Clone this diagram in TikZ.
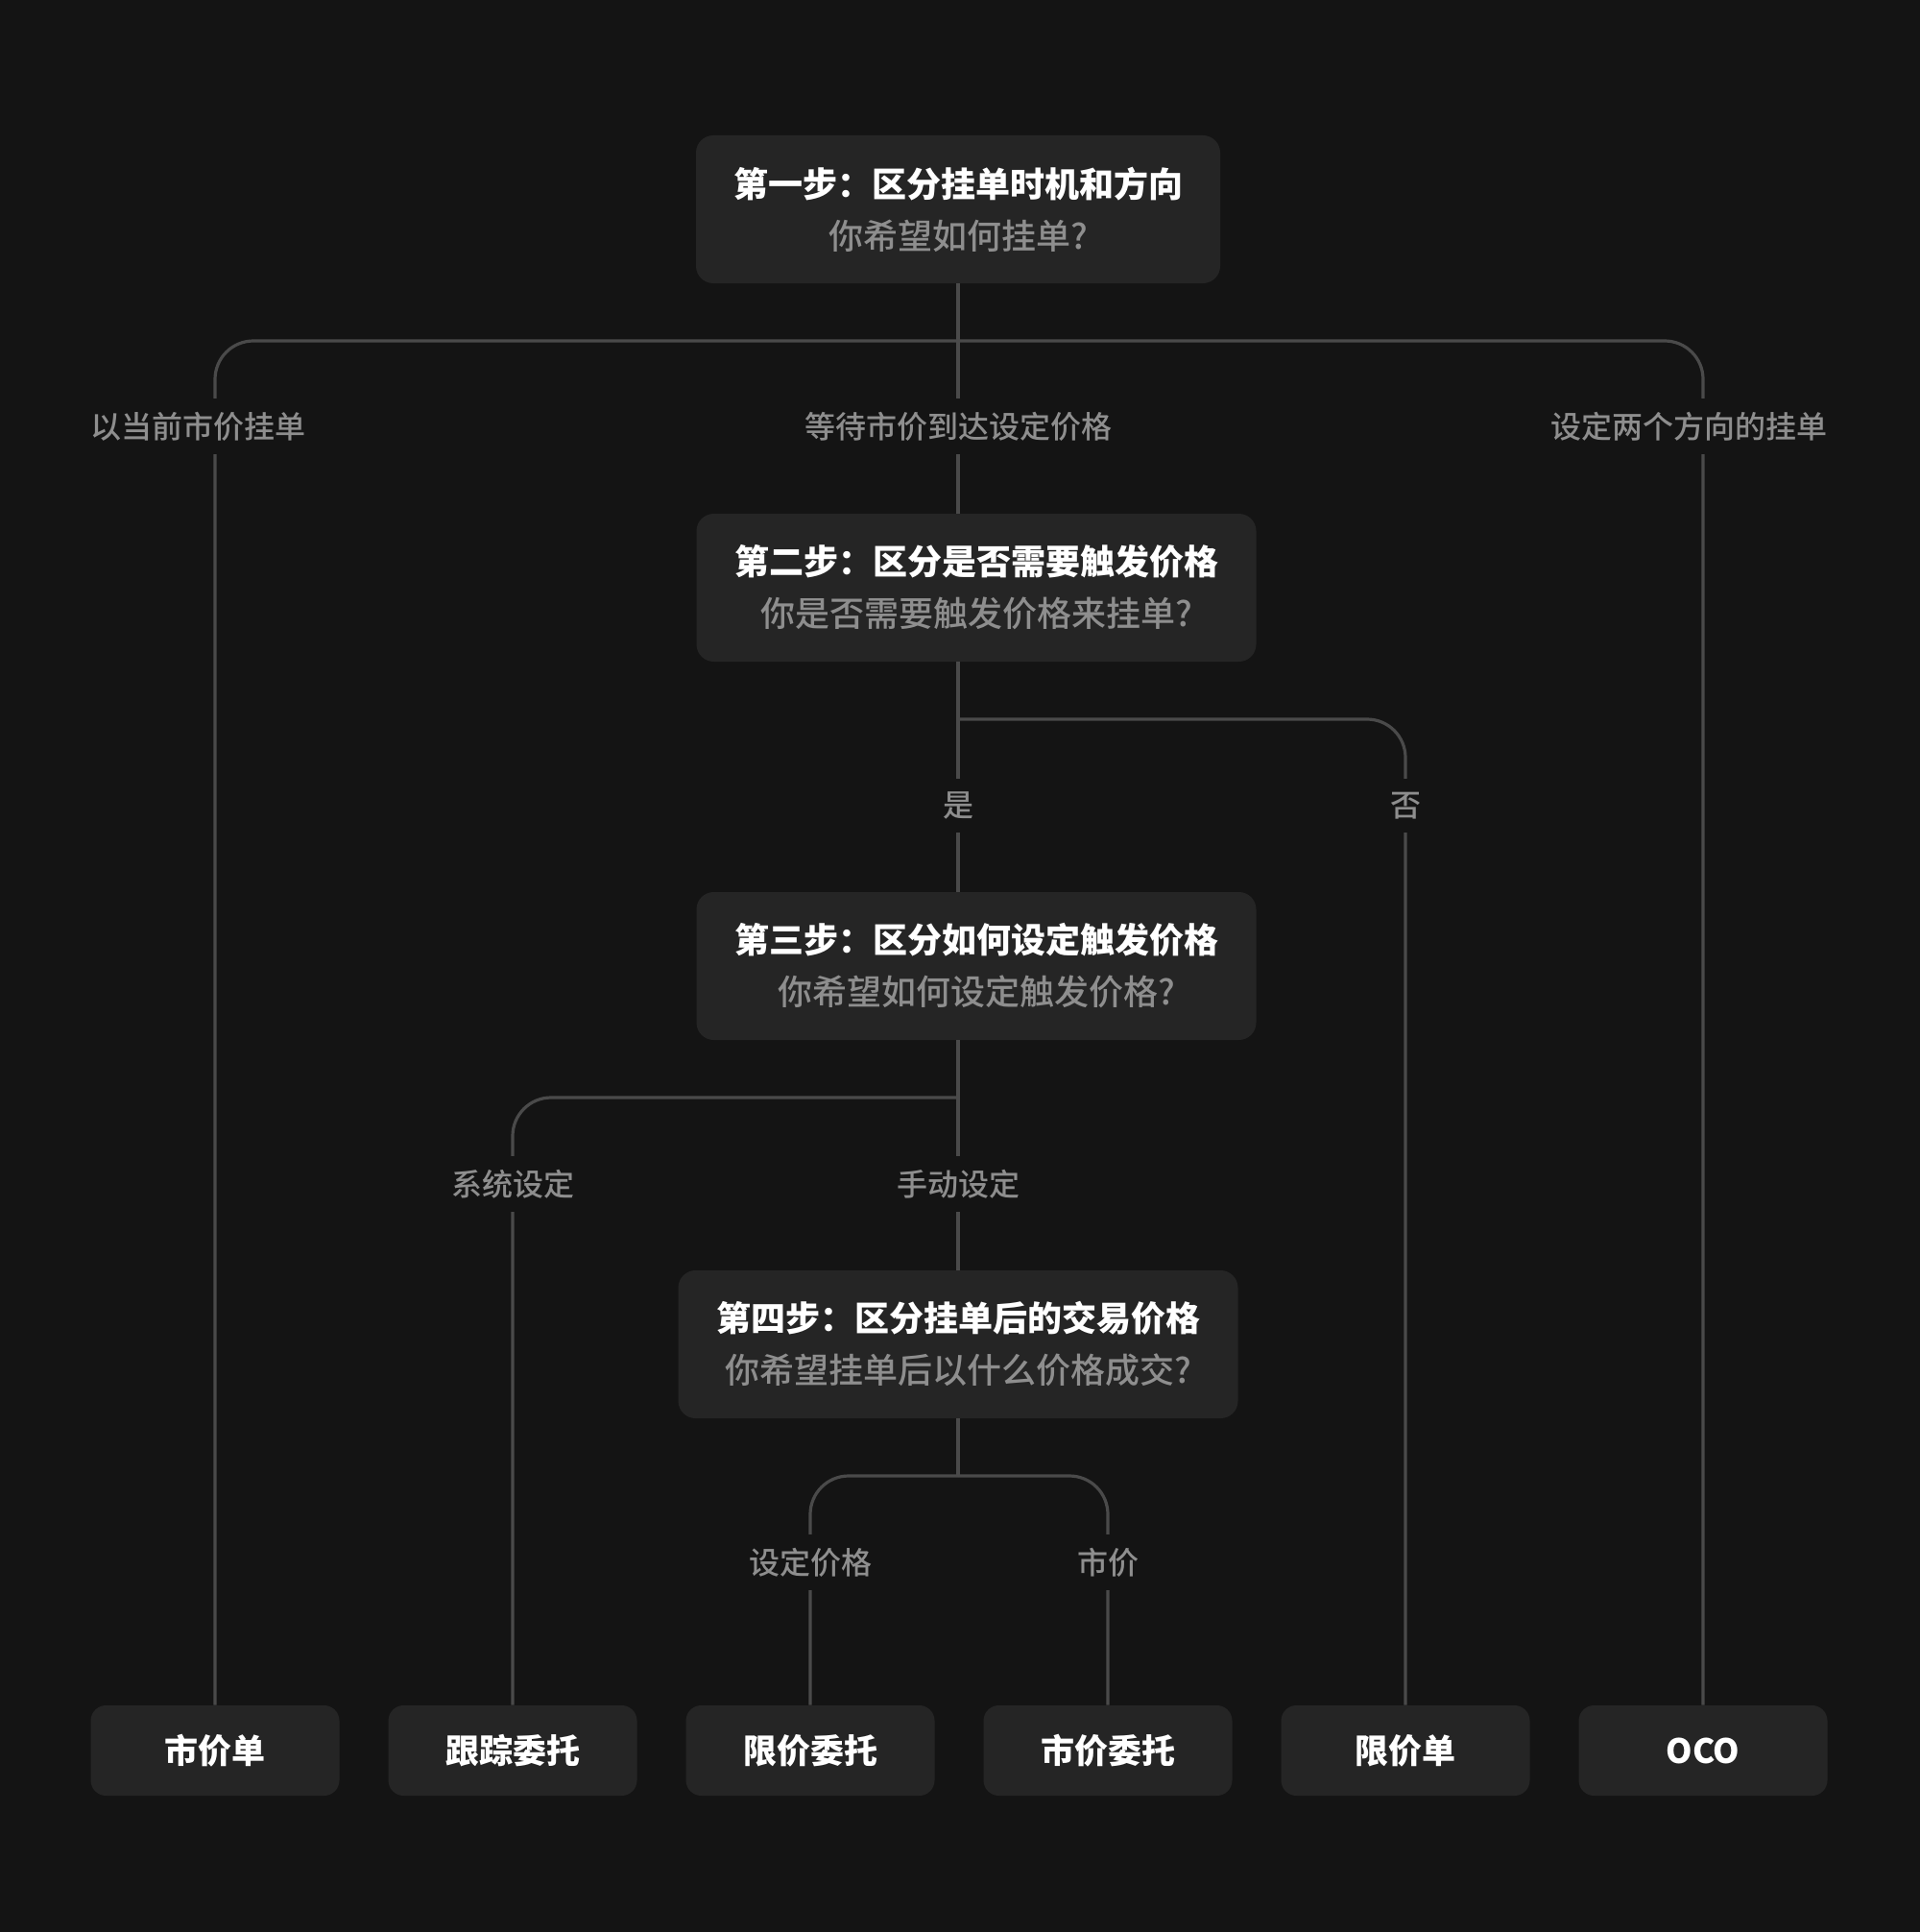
\documentclass[tikz,border=0pt]{standalone}
\usepackage{fontspec}
\setmainfont{Noto Sans CJK SC}
\newfontfamily\medfont{Noto Sans CJK SC Medium}
\usetikzlibrary{positioning}
\definecolor{bg}{HTML}{141414}
\definecolor{card}{HTML}{252525}
\definecolor{wire}{HTML}{4A4A4A}
\definecolor{muted}{HTML}{8E8E8E}
\newcommand{\ask}[1]{\textcolor{muted}{\medfont #1}}
\tikzset{
  question/.style={rectangle,fill=card,rounded corners=9pt,align=center,text=white,minimum height=77pt,font=\fontsize{18}{27}\selectfont},
  result/.style={rectangle,fill=card,rounded corners=8pt,minimum width=129.5pt,minimum height=47pt,text=white,font=\fontsize{17.5}{20}\selectfont\bfseries},
  choice/.style={fill=bg,text=muted,inner xsep=3pt,inner ysep=7pt,font=\fontsize{16}{18}\selectfont\medfont},
  link/.style={draw=wire,line width=1.6pt},
  branch/.style={link,rounded corners=20pt}
}

\begin{document}
\begin{tikzpicture}[node distance=197pt, on grid]
    \fill[bg] (0,0) rectangle (1000pt,-1006pt);

    % questions
    \node[question,minimum width=273pt] (q1) at (499pt,-109pt) {{\bfseries 第一步：区分挂单时机和方向}\\\ask{你希望如何挂单?}};
    \node[question,minimum width=291.5pt,below=of q1,xshift=9.5pt] (q2) {{\bfseries 第二步：区分是否需要触发价格}\\\ask{你是否需要触发价格来挂单?}};
    \node[question,minimum width=291.5pt,below=of q2] (q3) {{\bfseries 第三步：区分如何设定触发价格}\\\ask{你希望如何设定触发价格?}};
    \node[question,minimum width=291.5pt,below=of q3,xshift=-9.5pt] (q4) {{\bfseries 第四步：区分挂单后的交易价格}\\\ask{你希望挂单后以什么价格成交?}};

    % order types
    \node[result] (mkt) at (112pt,-911.5pt) {市价单};
    \node[result,right=155pt of mkt] (trail) {跟踪委托};
    \node[result,right=155pt of trail] (slim) {限价委托};
    \node[result,right=155pt of slim] (smkt) {市价委托};
    \node[result,right=155pt of smkt] (lim) {限价单};
    \node[result,right=155pt of lim] (oco) {OCO};

    \coordinate (j1) at (499pt,-177.5pt);
    \coordinate (j2) at (499pt,-374.5pt);
    \coordinate (j3) at (499pt,-571.5pt);
    \coordinate (j4) at (499pt,-768.5pt);

    \draw[link] (q1.south) -- (q2.north -| j1);
    \draw[branch] (j1) -| (mkt.north);
    \draw[branch] (j1) -| (oco.north);
    \draw[link] (q2.south -| j2) -- (q3.north -| j2);
    \draw[branch] (j2) -| (lim.north);
    \draw[link] (q3.south -| j3) -- (q4.north);
    \draw[branch] (j3) -| (trail.north);
    \draw[link] (q4.south) -- (j4);
    \draw[branch] (j4) -| (slim.north);
    \draw[branch] (j4) -| (smkt.north);

    % choices
    \node[choice,anchor=west,xshift=-3pt] (c1) at (mkt.west |- 0,-222pt) {以当前市价挂单};
    \node[choice] (c2) at (499pt,-222pt) {等待市价到达设定价格};
    \node[choice,anchor=east,xshift=3pt] (c3) at (oco.east |- 0,-222pt) {设定两个方向的挂单};
    \node[choice] (c4) at (499pt,-419.5pt) {是};
    \node[choice] (c5) at (lim.north |- 0,-419.5pt) {否};
    \node[choice] (c6) at (trail.north |- 0,-616.5pt) {系统设定};
    \node[choice] (c7) at (499pt,-616.5pt) {手动设定};
    \node[choice] (c8) at (slim.north |- 0,-813.5pt) {设定价格};
    \node[choice] (c9) at (smkt.north |- 0,-813.5pt) {市价};
\end{tikzpicture}
\end{document}
